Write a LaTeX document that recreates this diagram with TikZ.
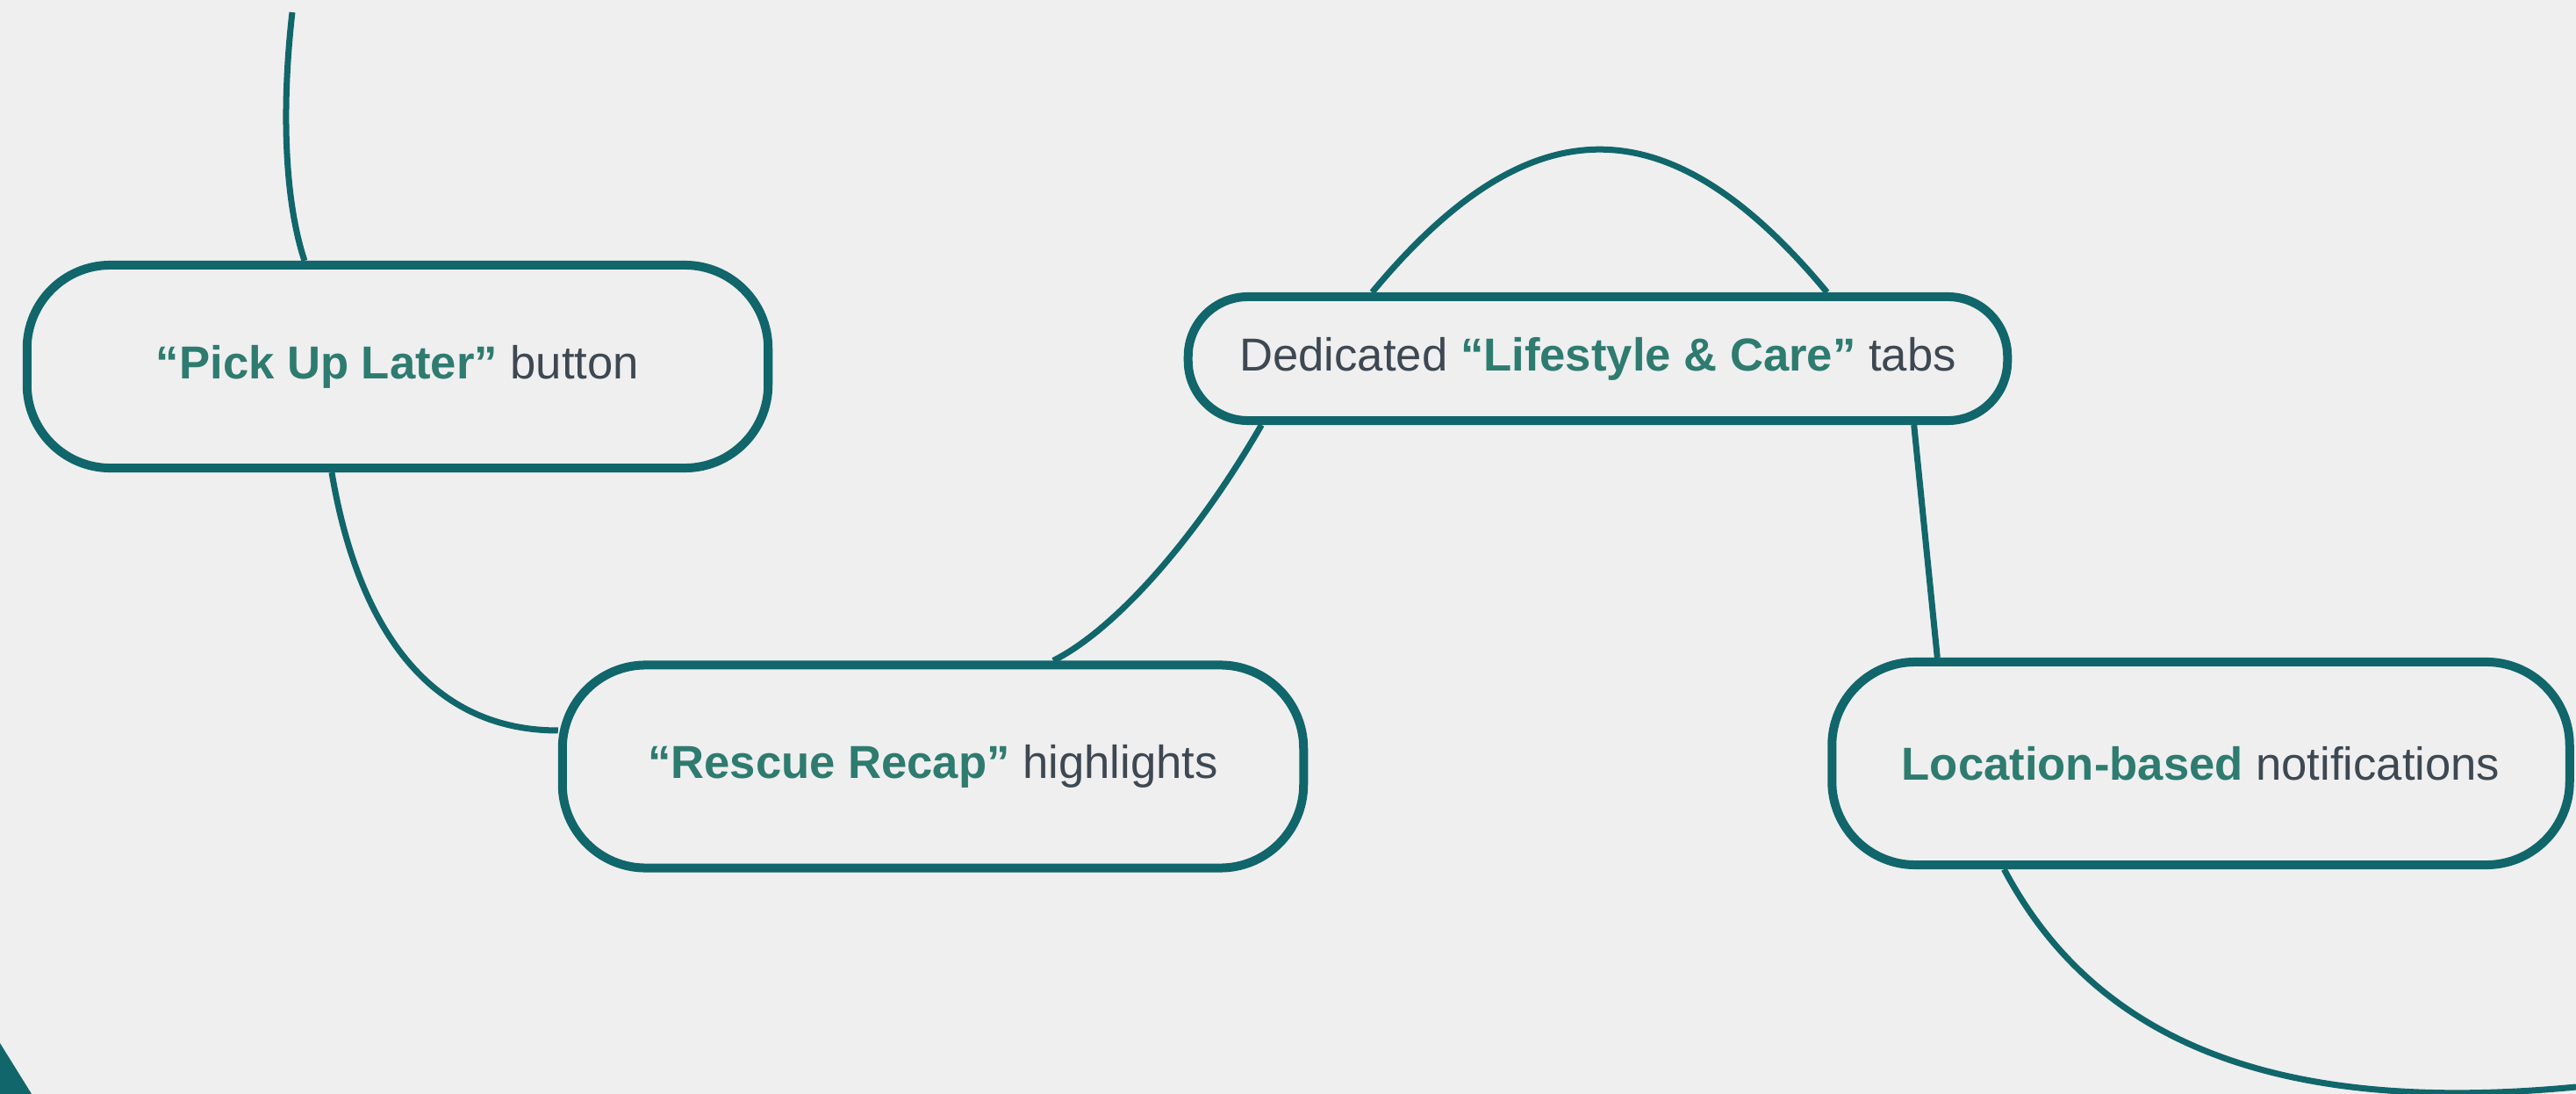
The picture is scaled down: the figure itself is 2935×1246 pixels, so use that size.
\documentclass[tikz,border=0pt]{standalone}
\usepackage{fontspec}
\setmainfont{Liberation Sans}
\definecolor{canvas}{HTML}{EFEFEF}
\definecolor{tealline}{HTML}{10666A}
\definecolor{accent}{HTML}{2E7B70}
\definecolor{bodytext}{HTML}{3D4852}
\newcommand{\hl}[1]{{\bfseries\color{accent}#1}}
\begin{document}
\begin{tikzpicture}[x=0.01cm, y=-0.01cm,
  pill/.style={draw=tealline, line width=0.1cm, fill=canvas, inner sep=0pt,
    rounded corners=0.95cm, minimum width=8.44cm, minimum height=2.31cm,
    text=bodytext, font=\fontsize{14.97pt}{18pt}\selectfont},
  link/.style={draw=tealline, line width=0.07cm}]
  % canvas
  \useasboundingbox (0,0) rectangle (2935,1246);
  \fill[canvas] (0,0) rectangle (2935,1246);
  % corner wedge
  \fill[tealline] (-5,1180) -- (41,1254) -- (-5,1254) -- cycle;

  % feature pills
  \node[pill] (pick) at (453,417.5) {\hl{“Pick Up Later”} button};
  \node[pill] (rescue) at (1063,873) {\hl{“Rescue Recap”} highlights};
  \node[pill, minimum width=9.33cm, minimum height=1.41cm, rounded corners=0.68cm]
    (life) at (1820.5,408.5) {Dedicated \hl{“Lifestyle \& Care”} tabs\hspace{0.14cm}};
  \node[pill, minimum width=8.4cm] (loc) at (2507.5,869.5) {\raisebox{-0.03cm}{\hl{Location-based} notifications}};

  % free ends
  \coordinate (topend) at (333,14);
  \coordinate (rightend) at (2935,1238);

  % connectors
  \draw[link] (topend) .. controls +(-11,96) and +(-25,-76) .. ([xshift=-1.06cm]pick.north);
  \draw[link] ([xshift=-0.75cm]pick.south) .. controls +(29,172) and +(-150,0) .. ([yshift=0.41cm]rescue.west);
  \draw[link] ([xshift=1.37cm]rescue.north) .. controls +(70,-35) and +(-75,130) .. ([xshift=-3.83cm]life.south);
  \draw[link] ([xshift=-2.57cm]life.north) .. controls +(180,-217) and +(-180,-217) .. ([xshift=2.61cm]life.north);
  \draw[link] ([xshift=3.6cm]life.south) -- ([xshift=-3.0cm]loc.north);
  \draw[link] ([xshift=-2.24cm]loc.south) .. controls +(106,200) and +(-335,32) .. (rightend);
\end{tikzpicture}
\end{document}
